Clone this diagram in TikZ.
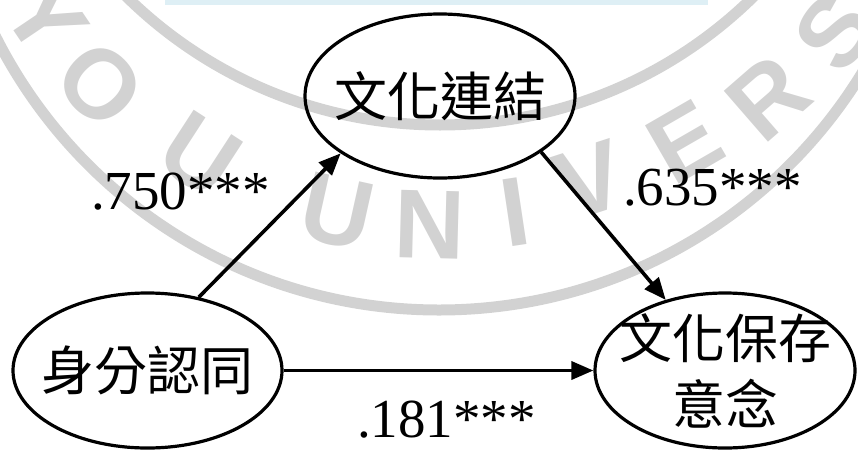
\documentclass[tikz,border=0pt]{standalone}
\usepackage{fontspec}
\setmainfont{Liberation Serif}
\newfontfamily\cjk{Noto Sans CJK TC}
\newfontfamily\sealfont{Liberation Sans}[UprightFont=* Bold]
\usetikzlibrary{shapes.geometric, arrows.meta}

\definecolor{sealgray}{RGB}{210,210,210}
\definecolor{bandblue}{RGB}{222,239,245}

\tikzset{
  var/.style={ellipse, draw, line width=3.2pt, inner xsep=-16pt, inner ysep=-8pt,
    align=center, font=\cjk\fontsize{53}{66}\selectfont},
  effect/.style={line width=3.6pt, -{Triangle[length=22pt,width=18pt]}},
  coef/.style={anchor=base west, inner sep=0pt, font=\fontsize{55}{60}\selectfont},
  sealring/.style={draw=sealgray, line width=11pt},
  sealtext/.style={text=sealgray, inner sep=0pt,
    font=\sealfont\fontsize{98}{98}\selectfont}
}

\begin{document}
\begin{tikzpicture}[x=1pt, y=-1pt]
  \useasboundingbox (0,0) rectangle (858,450);

  % watermark of the seal
  \begin{scope}
    \clip (0,0) rectangle (858,450);
    \fill[bandblue] (165,0) rectangle (708,5);
    \draw[sealring] (440,-322) circle [radius=447];
    \draw[sealring] (439,-186) circle [radius=496];
    \foreach \ch/\x/\y/\ang in {Y/46/18/-56, O/100/85/-45, U/200/155/-33,
      U/337/212/-12.6, N/430/225/-1.5, I/515/212/8.5, V/590/180/18,
      E/685/142/30, R/768/98/41, S/835/32/53}{
      \node[sealtext, rotate=\ang] at (\x,\y) {\ch};
    }
  \end{scope}

  % variables
  \node[var, minimum width=270pt, minimum height=164pt] (link) at (440,96) {文化連結};
  \node[var, minimum width=269pt, minimum height=155pt] (identity) at (147.5,370.5) {身分認同};
  \node[var, minimum width=260pt, minimum height=155pt] (preserve) at (725,370.5) {文化保存\\意念};

  % paths
  \draw[effect] (identity.55.8) -- (link.210);
  \draw[effect] (link.-29) -- (preserve.130.3);
  \draw[effect] (identity.east) -- (preserve.west);

  % coefficients
  \node[coef] (c750) at (91,209) {.750***};
  \node[coef] (c635) at (623,205) {.635***};
  \node[coef] (c181) at (357,437) {.181***};
\end{tikzpicture}
\end{document}
